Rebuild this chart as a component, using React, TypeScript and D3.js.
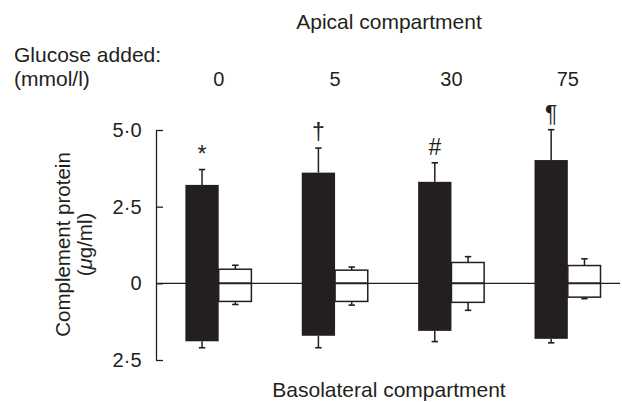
import React, { useEffect, useRef } from 'react';
import * as d3 from 'd3';

const glucose = ['0', '5', '30', '75'];
// apical side (black bars), mean and SEM
const apicalMean = [3.21, 3.61, 3.31, 4.02];
const apicalErr = [0.5, 0.8, 0.62, 0.99];
// basolateral side (black bars hanging down)
const basoMean = [-1.89, -1.71, -1.55, -1.81];
const basoErr = [0.21, 0.39, 0.35, 0.13];
// white bars (control), up and down parts
const ctrlUp = [0.46, 0.43, 0.68, 0.58];
const ctrlUpErr = [0.13, 0.1, 0.19, 0.22];
const ctrlDown = [-0.59, -0.59, -0.62, -0.45];
const ctrlDownErr = [0.1, 0.12, 0.26, 0.05];
const marks = ['*', '†', '#', '¶'];
const yTicks = [-2.5, 0, 2.5, 5];

const W = 622;
const H = 402;
const ink = '#231f20';
const font = 'Liberation Sans, Arial, Helvetica, sans-serif';

const App = () => {
    const ref = useRef<SVGSVGElement>(null);

    useEffect(() => {
        const svg = d3.select(ref.current);
        svg.selectAll('*').remove();

        const y = d3.scaleLinear().domain([-2.5, 5]).range([360, 130]);
        const x = d3.scaleBand().domain(glucose).range([160.5, 626]);
        const barW = 33.3;
        const axisX = 156;
        const cx = (g: string) => x(g)! + x.bandwidth() / 2;

        // zero line
        svg.append('line')
            .attr('x1', axisX).attr('x2', 620)
            .attr('y1', y(0)).attr('y2', y(0))
            .attr('stroke', ink).attr('stroke-width', 1.4);

        // y axis
        const yAxis = d3.axisLeft(y)
            .tickValues(yTicks)
            .tickSizeInner(-7)
            .tickSizeOuter(0)
            .tickPadding(14.5)
            .tickFormat(d => d3.format('.1f')(Math.abs(+d)).replace('.', '·').replace(/^0·0$/, '0'));
        const ga = svg.append('g')
            .attr('transform', `translate(${axisX},0)`)
            .call(yAxis);
        ga.select('.domain').attr('stroke', ink).attr('stroke-width', 1.3);
        ga.selectAll('.tick line').attr('stroke', ink).attr('stroke-width', 1.3);
        ga.selectAll('.tick text')
            .attr('fill', ink)
            .style('font-family', font)
            .style('font-size', '20px');

        const errBar = (xc: number, from: number, to: number) => {
            svg.append('line')
                .attr('x1', xc).attr('x2', xc)
                .attr('y1', y(from)).attr('y2', y(to))
                .attr('stroke', ink).attr('stroke-width', 1.5);
            svg.append('line')
                .attr('x1', xc - 3.2).attr('x2', xc + 3.2)
                .attr('y1', y(to)).attr('y2', y(to))
                .attr('stroke', ink).attr('stroke-width', 1.6);
        };

        glucose.forEach((g, i) => {
            const c = cx(g);
            // black bar
            errBar(c - barW / 2, apicalMean[i], apicalMean[i] + apicalErr[i]);
            errBar(c - barW / 2, basoMean[i], basoMean[i] - basoErr[i]);
            svg.append('rect')
                .attr('x', c - barW).attr('width', barW)
                .attr('y', y(apicalMean[i]))
                .attr('height', y(basoMean[i]) - y(apicalMean[i]))
                .attr('fill', ink);
            // white bar
            errBar(c + barW / 2, ctrlUp[i], ctrlUp[i] + ctrlUpErr[i]);
            errBar(c + barW / 2, ctrlDown[i], ctrlDown[i] - ctrlDownErr[i]);
            svg.append('rect')
                .attr('x', c).attr('width', barW - 0.6)
                .attr('y', y(ctrlUp[i]))
                .attr('height', y(ctrlDown[i]) - y(ctrlUp[i]))
                .attr('fill', '#fff')
                .attr('stroke', ink).attr('stroke-width', 1.5);
            svg.append('line')
                .attr('x1', c).attr('x2', c + barW - 0.6)
                .attr('y1', y(0)).attr('y2', y(0))
                .attr('stroke', ink).attr('stroke-width', 2);

            // significance mark, centred 16px above the error cap
            const t = svg.append('text')
                .attr('x', c - barW / 2)
                .attr('y', 0)
                .attr('text-anchor', 'middle')
                .attr('fill', ink)
                .style('font-family', font)
                .style('font-size', '23px')
                .text(marks[i]);
            const bb = (t.node() as SVGTextElement).getBBox();
            const target = y(apicalMean[i] + apicalErr[i]) - 16;
            t.attr('y', target - (bb.y + bb.height / 2));

            // glucose label
            svg.append('text')
                .attr('x', c).attr('y', 86)
                .attr('text-anchor', 'middle')
                .attr('fill', ink)
                .style('font-family', font)
                .style('font-size', '20px')
                .text(g);
        });

        const txt = (xx: number, yy: number, s: string, anchor = 'start') =>
            svg.append('text')
                .attr('x', xx).attr('y', yy)
                .attr('text-anchor', anchor)
                .attr('fill', ink)
                .style('font-family', font)
                .style('font-size', '21px')
                .text(s);

        txt(389, 29, 'Apical compartment', 'middle');
        txt(14, 62, 'Glucose added:');
        txt(14, 86, '(mmol/l)');
        txt(389, 397, 'Basolateral compartment', 'middle');

        const yt = svg.append('text')
            .attr('transform', 'translate(70,244.5) rotate(-90)')
            .attr('text-anchor', 'middle')
            .attr('fill', ink)
            .style('font-family', font)
            .style('font-size', '20.5px');
        yt.append('tspan').attr('x', 0).attr('y', 0).text('Complement protein');
        const t2 = yt.append('tspan').attr('x', 0).attr('y', 22);
        t2.append('tspan').text('(');
        t2.append('tspan').style('font-style', 'italic').text('μ');
        t2.append('tspan').text('g/ml)');
    }, []);

    return (
        <svg ref={ref} width={W} height={H}
            style={{ position: 'absolute', left: 0, top: 0, background: '#fff' }} />
    );
};

export default App;
